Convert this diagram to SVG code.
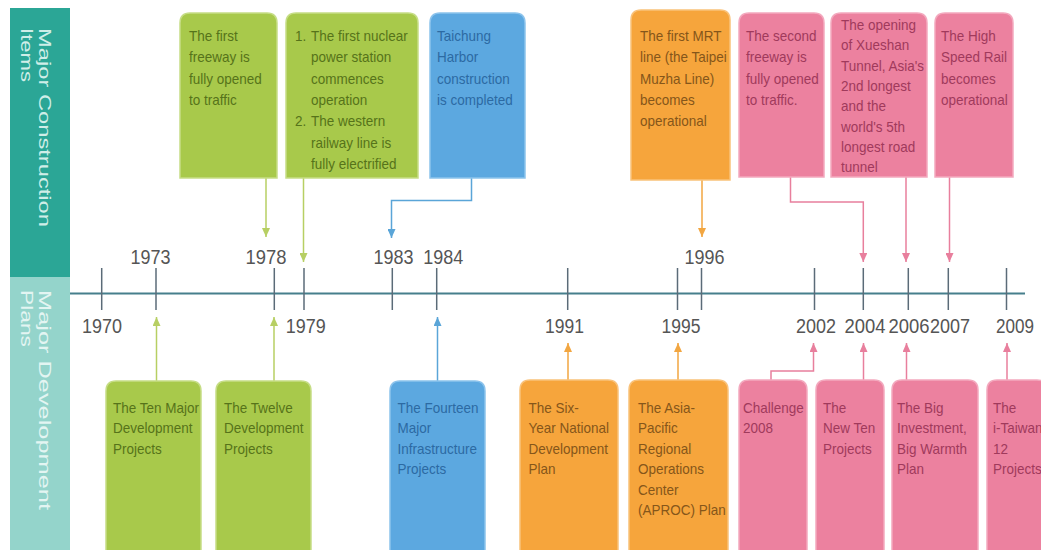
<svg xmlns="http://www.w3.org/2000/svg" width="1041" height="550" viewBox="0 0 1041 550">
<defs>
<style>
.t{font-family:"Liberation Sans",Arial,sans-serif;font-size:15px}
.tg{fill:#56731a}.tb{fill:#2c6aa3}.to{fill:#85561a}.tp{fill:#a03a5c}
.bg{fill:#a8c94b;stroke:#c6dd86;stroke-width:1.5}
.bb{fill:#5ca8e0;stroke:#8cc3ec;stroke-width:1.5}
.bo{fill:#f6a53c;stroke:#f9c27a;stroke-width:1.5}
.bp{fill:#ec819f;stroke:#f3a9be;stroke-width:1.5}
.yr{font-family:"Liberation Sans",Arial,sans-serif;font-size:20px;fill:#555}
.side{font-family:"Liberation Sans",Arial,sans-serif;font-size:17px}
.cg{stroke:#b7cf63;fill:none;stroke-width:1.5}
.cb{stroke:#5aa5d8;fill:none;stroke-width:1.5}
.co{stroke:#f2a641;fill:none;stroke-width:1.5}
.cp{stroke:#e87f9d;fill:none;stroke-width:1.5}
.tick{stroke:#5b6b78;stroke-width:1.5}
</style>
<marker id="ag" markerUnits="userSpaceOnUse" markerWidth="9" markerHeight="8" refX="9" refY="4" orient="auto"><path d="M0,0 L9,4 L0,8 z" fill="#b7cf63"/></marker>
<marker id="ab" markerUnits="userSpaceOnUse" markerWidth="9" markerHeight="8" refX="9" refY="4" orient="auto"><path d="M0,0 L9,4 L0,8 z" fill="#5aa5d8"/></marker>
<marker id="ao" markerUnits="userSpaceOnUse" markerWidth="9" markerHeight="8" refX="9" refY="4" orient="auto"><path d="M0,0 L9,4 L0,8 z" fill="#f2a641"/></marker>
<marker id="ap" markerUnits="userSpaceOnUse" markerWidth="9" markerHeight="8" refX="9" refY="4" orient="auto"><path d="M0,0 L9,4 L0,8 z" fill="#e87f9d"/></marker>
</defs>
<rect width="1041" height="550" fill="#ffffff"/>

<g id="sidebar">
<rect x="10" y="8" width="60" height="269" fill="#2ba696"/>
<rect x="10" y="277" width="60" height="273" fill="#94d4cb"/>
<text class="side" fill="#cfeee8" transform="translate(39 28) rotate(90)" textLength="199" lengthAdjust="spacingAndGlyphs">Major Construction</text>
<text class="side" fill="#cfeee8" transform="translate(21 28) rotate(90)" textLength="54" lengthAdjust="spacingAndGlyphs">Items</text>
<text class="side" fill="#e3f5f2" transform="translate(39 290) rotate(90)" textLength="220" lengthAdjust="spacingAndGlyphs">Major Development</text>
<text class="side" fill="#e3f5f2" transform="translate(21 290) rotate(90)" textLength="57" lengthAdjust="spacingAndGlyphs">Plans</text>
</g>

<g id="timeline">
<line x1="70" y1="293.5" x2="1025" y2="293.5" stroke="#467f8c" stroke-width="2"/>
<line class="tick" x1="101.7" y1="268" x2="101.7" y2="310"/>
<line class="tick" x1="156" y1="268" x2="156" y2="310"/>
<line class="tick" x1="274.3" y1="268" x2="274.3" y2="310"/>
<line class="tick" x1="304" y1="268" x2="304" y2="310"/>
<line class="tick" x1="392.3" y1="268" x2="392.3" y2="310"/>
<line class="tick" x1="436.7" y1="268" x2="436.7" y2="310"/>
<line class="tick" x1="567.7" y1="268" x2="567.7" y2="310"/>
<line class="tick" x1="677.5" y1="268" x2="677.5" y2="310"/>
<line class="tick" x1="701.5" y1="268" x2="701.5" y2="310"/>
<line class="tick" x1="814.5" y1="268" x2="814.5" y2="310"/>
<line class="tick" x1="863.3" y1="268" x2="863.3" y2="310"/>
<line class="tick" x1="908.3" y1="268" x2="908.3" y2="310"/>
<line class="tick" x1="948.3" y1="268" x2="948.3" y2="310"/>
<line class="tick" x1="1006.5" y1="268" x2="1006.5" y2="310"/>
<g class="yr">
<text x="130.5" y="264" textLength="40" lengthAdjust="spacingAndGlyphs">1973</text>
<text x="245.5" y="264" textLength="41" lengthAdjust="spacingAndGlyphs">1978</text>
<text x="373.5" y="264" textLength="40" lengthAdjust="spacingAndGlyphs">1983</text>
<text x="423.3" y="264" textLength="40" lengthAdjust="spacingAndGlyphs">1984</text>
<text x="684.5" y="264" textLength="40" lengthAdjust="spacingAndGlyphs">1996</text>
<text x="82" y="333" textLength="40" lengthAdjust="spacingAndGlyphs">1970</text>
<text x="285.7" y="333" textLength="40" lengthAdjust="spacingAndGlyphs">1979</text>
<text x="545" y="333" textLength="39" lengthAdjust="spacingAndGlyphs">1991</text>
<text x="661.5" y="333" textLength="39" lengthAdjust="spacingAndGlyphs">1995</text>
<text x="796" y="333" textLength="40" lengthAdjust="spacingAndGlyphs">2002</text>
<text x="844.5" y="333" textLength="41" lengthAdjust="spacingAndGlyphs">2004</text>
<text x="888.5" y="333" textLength="41" lengthAdjust="spacingAndGlyphs">2006</text>
<text x="930" y="333" textLength="40" lengthAdjust="spacingAndGlyphs">2007</text>
<text x="996" y="333" textLength="38" lengthAdjust="spacingAndGlyphs">2009</text>
</g>
</g>

<g id="connectors">
<path class="cg" d="M266,178 V237" marker-end="url(#ag)"/>
<path class="cg" d="M303.5,178 V262" marker-end="url(#ag)"/>
<path class="cb" d="M471.5,178 V200.5 H391.5 V238" marker-end="url(#ab)"/>
<path class="co" d="M702,180 V237" marker-end="url(#ao)"/>
<path class="cp" d="M790.5,177 V202 H863.3 V262" marker-end="url(#ap)"/>
<path class="cp" d="M906,177 V262" marker-end="url(#ap)"/>
<path class="cp" d="M949.5,177 V262" marker-end="url(#ap)"/>
<path class="cg" d="M156.5,381 V317" marker-end="url(#ag)"/>
<path class="cg" d="M274,381 V317" marker-end="url(#ag)"/>
<path class="cb" d="M437.5,381 V317" marker-end="url(#ab)"/>
<path class="co" d="M568,380 V343" marker-end="url(#ao)"/>
<path class="co" d="M678,380 V343" marker-end="url(#ao)"/>
<path class="cp" d="M771,380 V371 H813.5 V343" marker-end="url(#ap)"/>
<path class="cp" d="M863.5,380 V343" marker-end="url(#ap)"/>
<path class="cp" d="M906.5,380 V343" marker-end="url(#ap)"/>
<path class="cp" d="M1007,380 V343" marker-end="url(#ap)"/>
</g>

<g id="c1978">
<path class="bg" d="M180,178 V23 Q180,13 190,13 H267 Q277,13 277,23 V178 Z"/>
<text class="t tg" transform="translate(189 0) scale(0.9 1)"><tspan x="0" y="41">The first</tspan><tspan x="0" y="62.3">freeway is</tspan><tspan x="0" y="83.6">fully opened</tspan><tspan x="0" y="105">to traffic</tspan></text>
</g>
<g id="c1979">
<path class="bg" d="M286,178 V23 Q286,13 296,13 H408 Q418,13 418,23 V178 Z"/>
<text class="t tg" transform="translate(295 0) scale(0.9 1)"><tspan x="0" y="41">1.</tspan><tspan x="17.8" y="41">The first nuclear</tspan><tspan x="17.8" y="62.3">power station</tspan><tspan x="17.8" y="83.6">commences</tspan><tspan x="17.8" y="105">operation</tspan><tspan x="0" y="126.3">2.</tspan><tspan x="17.8" y="126.3">The western</tspan><tspan x="17.8" y="147.6">railway line is</tspan><tspan x="17.8" y="169">fully electrified</tspan></text>
</g>
<g id="c1983">
<path class="bb" d="M430,178 V23 Q430,13 440,13 H515 Q525,13 525,23 V178 Z"/>
<text class="t tb" transform="translate(437 0) scale(0.9 1)"><tspan x="0" y="41">Taichung</tspan><tspan x="0" y="62.3">Harbor</tspan><tspan x="0" y="83.6">construction</tspan><tspan x="0" y="105">is completed</tspan></text>
</g>
<g id="c1996">
<path class="bo" d="M631,180 V20 Q631,10 641,10 H720 Q730,10 730,20 V180 Z"/>
<text class="t to" transform="translate(640 0) scale(0.9 1)"><tspan x="0" y="41">The first MRT</tspan><tspan x="0" y="62.3">line (the Taipei</tspan><tspan x="0" y="83.6">Muzha Line)</tspan><tspan x="0" y="105">becomes</tspan><tspan x="0" y="126.3">operational</tspan></text>
</g>
<g id="c2004">
<path class="bp" d="M739,177 V23 Q739,13 749,13 H814 Q824,13 824,23 V177 Z"/>
<text class="t tp" transform="translate(746 0) scale(0.9 1)"><tspan x="0" y="41">The second</tspan><tspan x="0" y="62.3">freeway is</tspan><tspan x="0" y="83.6">fully opened</tspan><tspan x="0" y="105">to traffic.</tspan></text>
</g>
<g id="c2006">
<path class="bp" d="M831,177 V23 Q831,13 841,13 H917 Q927,13 927,23 V177 Z"/>
<text class="t tp" transform="translate(841 0) scale(0.9 1)"><tspan x="0" y="30">The opening</tspan><tspan x="0" y="50.3">of Xueshan</tspan><tspan x="0" y="70.6">Tunnel, Asia's</tspan><tspan x="0" y="91">2nd longest</tspan><tspan x="0" y="111.3">and the</tspan><tspan x="0" y="131.6">world's 5th</tspan><tspan x="0" y="152">longest road</tspan><tspan x="0" y="172">tunnel</tspan></text>
</g>
<g id="c2007">
<path class="bp" d="M935,177 V23 Q935,13 945,13 H1003 Q1013,13 1013,23 V177 Z"/>
<text class="t tp" transform="translate(941 0) scale(0.9 1)"><tspan x="0" y="41">The High</tspan><tspan x="0" y="62.3">Speed Rail</tspan><tspan x="0" y="83.6">becomes</tspan><tspan x="0" y="105">operational</tspan></text>
</g>

<g id="p1973">
<path class="bg" d="M106,552 V391 Q106,381 116,381 H191 Q201,381 201,391 V552 Z"/>
<text class="t tg" transform="translate(113 0) scale(0.9 1)"><tspan x="0" y="413">The Ten Major</tspan><tspan x="0" y="433.5">Development</tspan><tspan x="0" y="454">Projects</tspan></text>
</g>
<g id="p1978">
<path class="bg" d="M216,552 V391 Q216,381 226,381 H301 Q311,381 311,391 V552 Z"/>
<text class="t tg" transform="translate(224 0) scale(0.9 1)"><tspan x="0" y="413">The Twelve</tspan><tspan x="0" y="433.5">Development</tspan><tspan x="0" y="454">Projects</tspan></text>
</g>
<g id="p1984">
<path class="bb" d="M390,552 V391 Q390,381 400,381 H475 Q485,381 485,391 V552 Z"/>
<text class="t tb" transform="translate(397.5 0) scale(0.9 1)"><tspan x="0" y="413">The Fourteen</tspan><tspan x="0" y="433.5">Major</tspan><tspan x="0" y="454">Infrastructure</tspan><tspan x="0" y="474.5">Projects</tspan></text>
</g>
<g id="p1991">
<path class="bo" d="M520,552 V390 Q520,380 530,380 H608 Q618,380 618,390 V552 Z"/>
<text class="t to" transform="translate(528.5 0) scale(0.9 1)"><tspan x="0" y="413">The Six-</tspan><tspan x="0" y="433.5">Year National</tspan><tspan x="0" y="454">Development</tspan><tspan x="0" y="474.5">Plan</tspan></text>
</g>
<g id="p1995">
<path class="bo" d="M629,552 V390 Q629,380 639,380 H718 Q728,380 728,390 V552 Z"/>
<text class="t to" transform="translate(638 0) scale(0.9 1)"><tspan x="0" y="413">The Asia-</tspan><tspan x="0" y="433.5">Pacific</tspan><tspan x="0" y="454">Regional</tspan><tspan x="0" y="474.5">Operations</tspan><tspan x="0" y="495">Center</tspan><tspan x="0" y="515.5">(APROC) Plan</tspan></text>
</g>
<g id="p2002">
<path class="bp" d="M739,552 V390 Q739,380 749,380 H797 Q807,380 807,390 V552 Z"/>
<text class="t tp" transform="translate(743 0) scale(0.9 1)"><tspan x="0" y="413">Challenge</tspan><tspan x="0" y="433.5">2008</tspan></text>
</g>
<g id="p2004">
<path class="bp" d="M816,552 V390 Q816,380 826,380 H874 Q884,380 884,390 V552 Z"/>
<text class="t tp" transform="translate(823 0) scale(0.9 1)"><tspan x="0" y="413">The</tspan><tspan x="0" y="433.5">New Ten</tspan><tspan x="0" y="454">Projects</tspan></text>
</g>
<g id="p2006">
<path class="bp" d="M892,552 V390 Q892,380 902,380 H968 Q978,380 978,390 V552 Z"/>
<text class="t tp" transform="translate(897 0) scale(0.9 1)"><tspan x="0" y="413">The Big</tspan><tspan x="0" y="433.5">Investment,</tspan><tspan x="0" y="454">Big Warmth</tspan><tspan x="0" y="474.5">Plan</tspan></text>
</g>
<g id="p2009">
<path class="bp" d="M987,552 V390 Q987,380 997,380 H1037 Q1047,380 1047,390 V552 Z"/>
<text class="t tp" transform="translate(993 0) scale(0.9 1)"><tspan x="0" y="413">The</tspan><tspan x="0" y="433.5">i-Taiwan</tspan><tspan x="0" y="454">12</tspan><tspan x="0" y="474.5">Projects</tspan></text>
</g>
</svg>
